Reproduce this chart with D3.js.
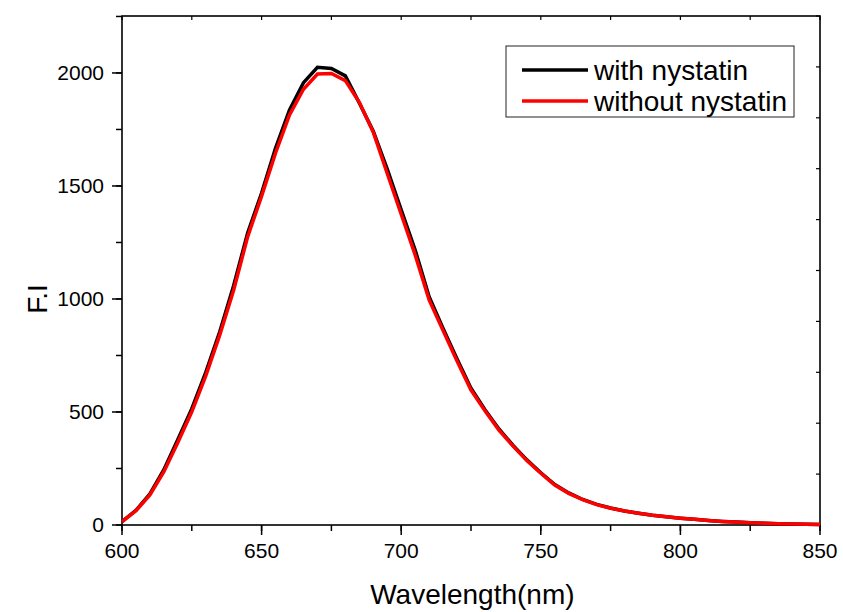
<!DOCTYPE html>
<html><head><meta charset="utf-8">
<script src="https://cdn.jsdelivr.net/npm/d3@7"></script>
<style>body{margin:0;background:#fff}svg{display:block}</style>
</head><body>
<script>
const wavelengths = [600,605,610,615,620,625,630,635,640,645,650,655,660,665,670,675,680,685,690,695,700,705,710,715,720,725,730,735,740,745,750,755,760,765,770,775,780,785,790,795,800,805,810,815,820,825,830,835,840,845,850];
const withNystatin = [15,65,138,245,378,515,675,855,1060,1292,1469,1668,1836,1957,2025,2020,1987,1867,1742,1575,1395,1217,1010,870,735,605,510,425,353,288,231,179,142,113,91,75,62,52,43,36,30,25,20,16,13,10,8,6,4,3,2];
const withoutNystatin = [15,63,133,236,365,501,660,840,1040,1275,1455,1646,1814,1928,1995,1998,1966,1870,1738,1555,1375,1195,996,860,725,597,505,420,350,285,229,177,140,112,90,74,62,52,43,36,30,25,20,16,13,10,8,6,4,3,2];
const xTicks = [600,650,700,750,800,850];
const yTicks = [0,500,1000,1500,2000];
const seriesNames = ["with nystatin","without nystatin"];
const seriesColors = ["#000000","#ff0000"];

const W = 843, H = 612;
const m = {left:122, right:23, top:16, bottom:87};
const svg = d3.select("body").append("svg").attr("width",W).attr("height",H);
const pw = W - m.left - m.right, ph = H - m.top - m.bottom;
const x = d3.scaleLinear().domain([600,850]).range([m.left, m.left+pw]);
const y = d3.scaleLinear().domain([0,2252]).range([m.top+ph, m.top]);
const yR = d3.scaleLinear().domain([0,2500]).range([m.top+ph, m.top]);
const font = "Arial, 'Liberation Sans', sans-serif";

const xMinor = d3.range(600, 851, 25);
const yMinor = d3.range(0, 2251, 250);

const g = svg.append("g");
g.selectAll(".bm").data(xMinor).join("line")
  .attr("x1",d=>x(d)).attr("x2",d=>x(d)).attr("y1",m.top+ph).attr("y2",m.top+ph+6)
  .attr("stroke","#000").attr("stroke-width",1.5);
g.selectAll(".bM").data(xTicks).join("line")
  .attr("x1",d=>x(d)).attr("x2",d=>x(d)).attr("y1",m.top+ph).attr("y2",m.top+ph+10)
  .attr("stroke","#000").attr("stroke-width",1.5);
g.selectAll(".tm").data(xMinor).join("line")
  .attr("x1",d=>x(d)).attr("x2",d=>x(d)).attr("y1",m.top).attr("y2",m.top+4)
  .attr("stroke","#000").attr("stroke-width",1.2);
g.selectAll(".lm").data(yMinor).join("line")
  .attr("y1",d=>y(d)).attr("y2",d=>y(d)).attr("x1",m.left).attr("x2",m.left-6)
  .attr("stroke","#000").attr("stroke-width",1.5);
g.selectAll(".lM").data(yTicks).join("line")
  .attr("y1",d=>y(d)).attr("y2",d=>y(d)).attr("x1",m.left).attr("x2",m.left-10)
  .attr("stroke","#000").attr("stroke-width",1.5);
g.selectAll(".rm").data(d3.range(0,2501,250)).join("line")
  .attr("y1",d=>yR(d)).attr("y2",d=>yR(d)).attr("x1",m.left+pw).attr("x2",m.left+pw-4)
  .attr("stroke","#000").attr("stroke-width",1.2);

svg.append("rect").attr("x",m.left).attr("y",m.top).attr("width",pw).attr("height",ph)
  .attr("fill","none").attr("stroke","#000").attr("stroke-width",1.6);

svg.selectAll(".xl").data(xTicks).join("text")
  .attr("x",d=>x(d)).attr("y",m.top+ph+33).attr("text-anchor","middle")
  .attr("font-family",font).attr("font-size",21).text(d=>d);
svg.selectAll(".yl").data(yTicks).join("text")
  .attr("x",m.left-18).attr("y",d=>y(d)).attr("dy","0.35em").attr("text-anchor","end")
  .attr("font-family",font).attr("font-size",21).text(d=>d);

svg.append("text").attr("x",x(725.5)).attr("y",604).attr("text-anchor","middle")
  .attr("font-family",font).attr("font-size",28).text("Wavelength(nm)");
svg.append("text").attr("transform",`translate(47,${y(1000)}) rotate(-90)`).attr("text-anchor","middle")
  .attr("font-family",font).attr("font-size",28).text("F.I");

const line = d3.line().x((d,i)=>x(wavelengths[i])).y(d=>y(d));
[withNystatin, withoutNystatin].forEach((s,i)=>{
  svg.append("path").datum(s).attr("d",line).attr("fill","none")
    .attr("stroke",seriesColors[i]).attr("stroke-width",3.5).attr("stroke-linejoin","miter");
});

const lg = svg.append("g");
lg.append("rect").attr("x",506).attr("y",46).attr("width",288).attr("height",71)
  .attr("fill","#fff").attr("stroke","#222").attr("stroke-width",1);
seriesNames.forEach((n,i)=>{
  const yy = 70 + i*31;
  lg.append("line").attr("x1",522).attr("x2",588).attr("y1",yy).attr("y2",yy)
    .attr("stroke",seriesColors[i]).attr("stroke-width",3.5);
  lg.append("text").attr("x",594).attr("y",yy+10).attr("font-family",font)
    .attr("font-size",28).text(n);
});
</script>
</body></html>
